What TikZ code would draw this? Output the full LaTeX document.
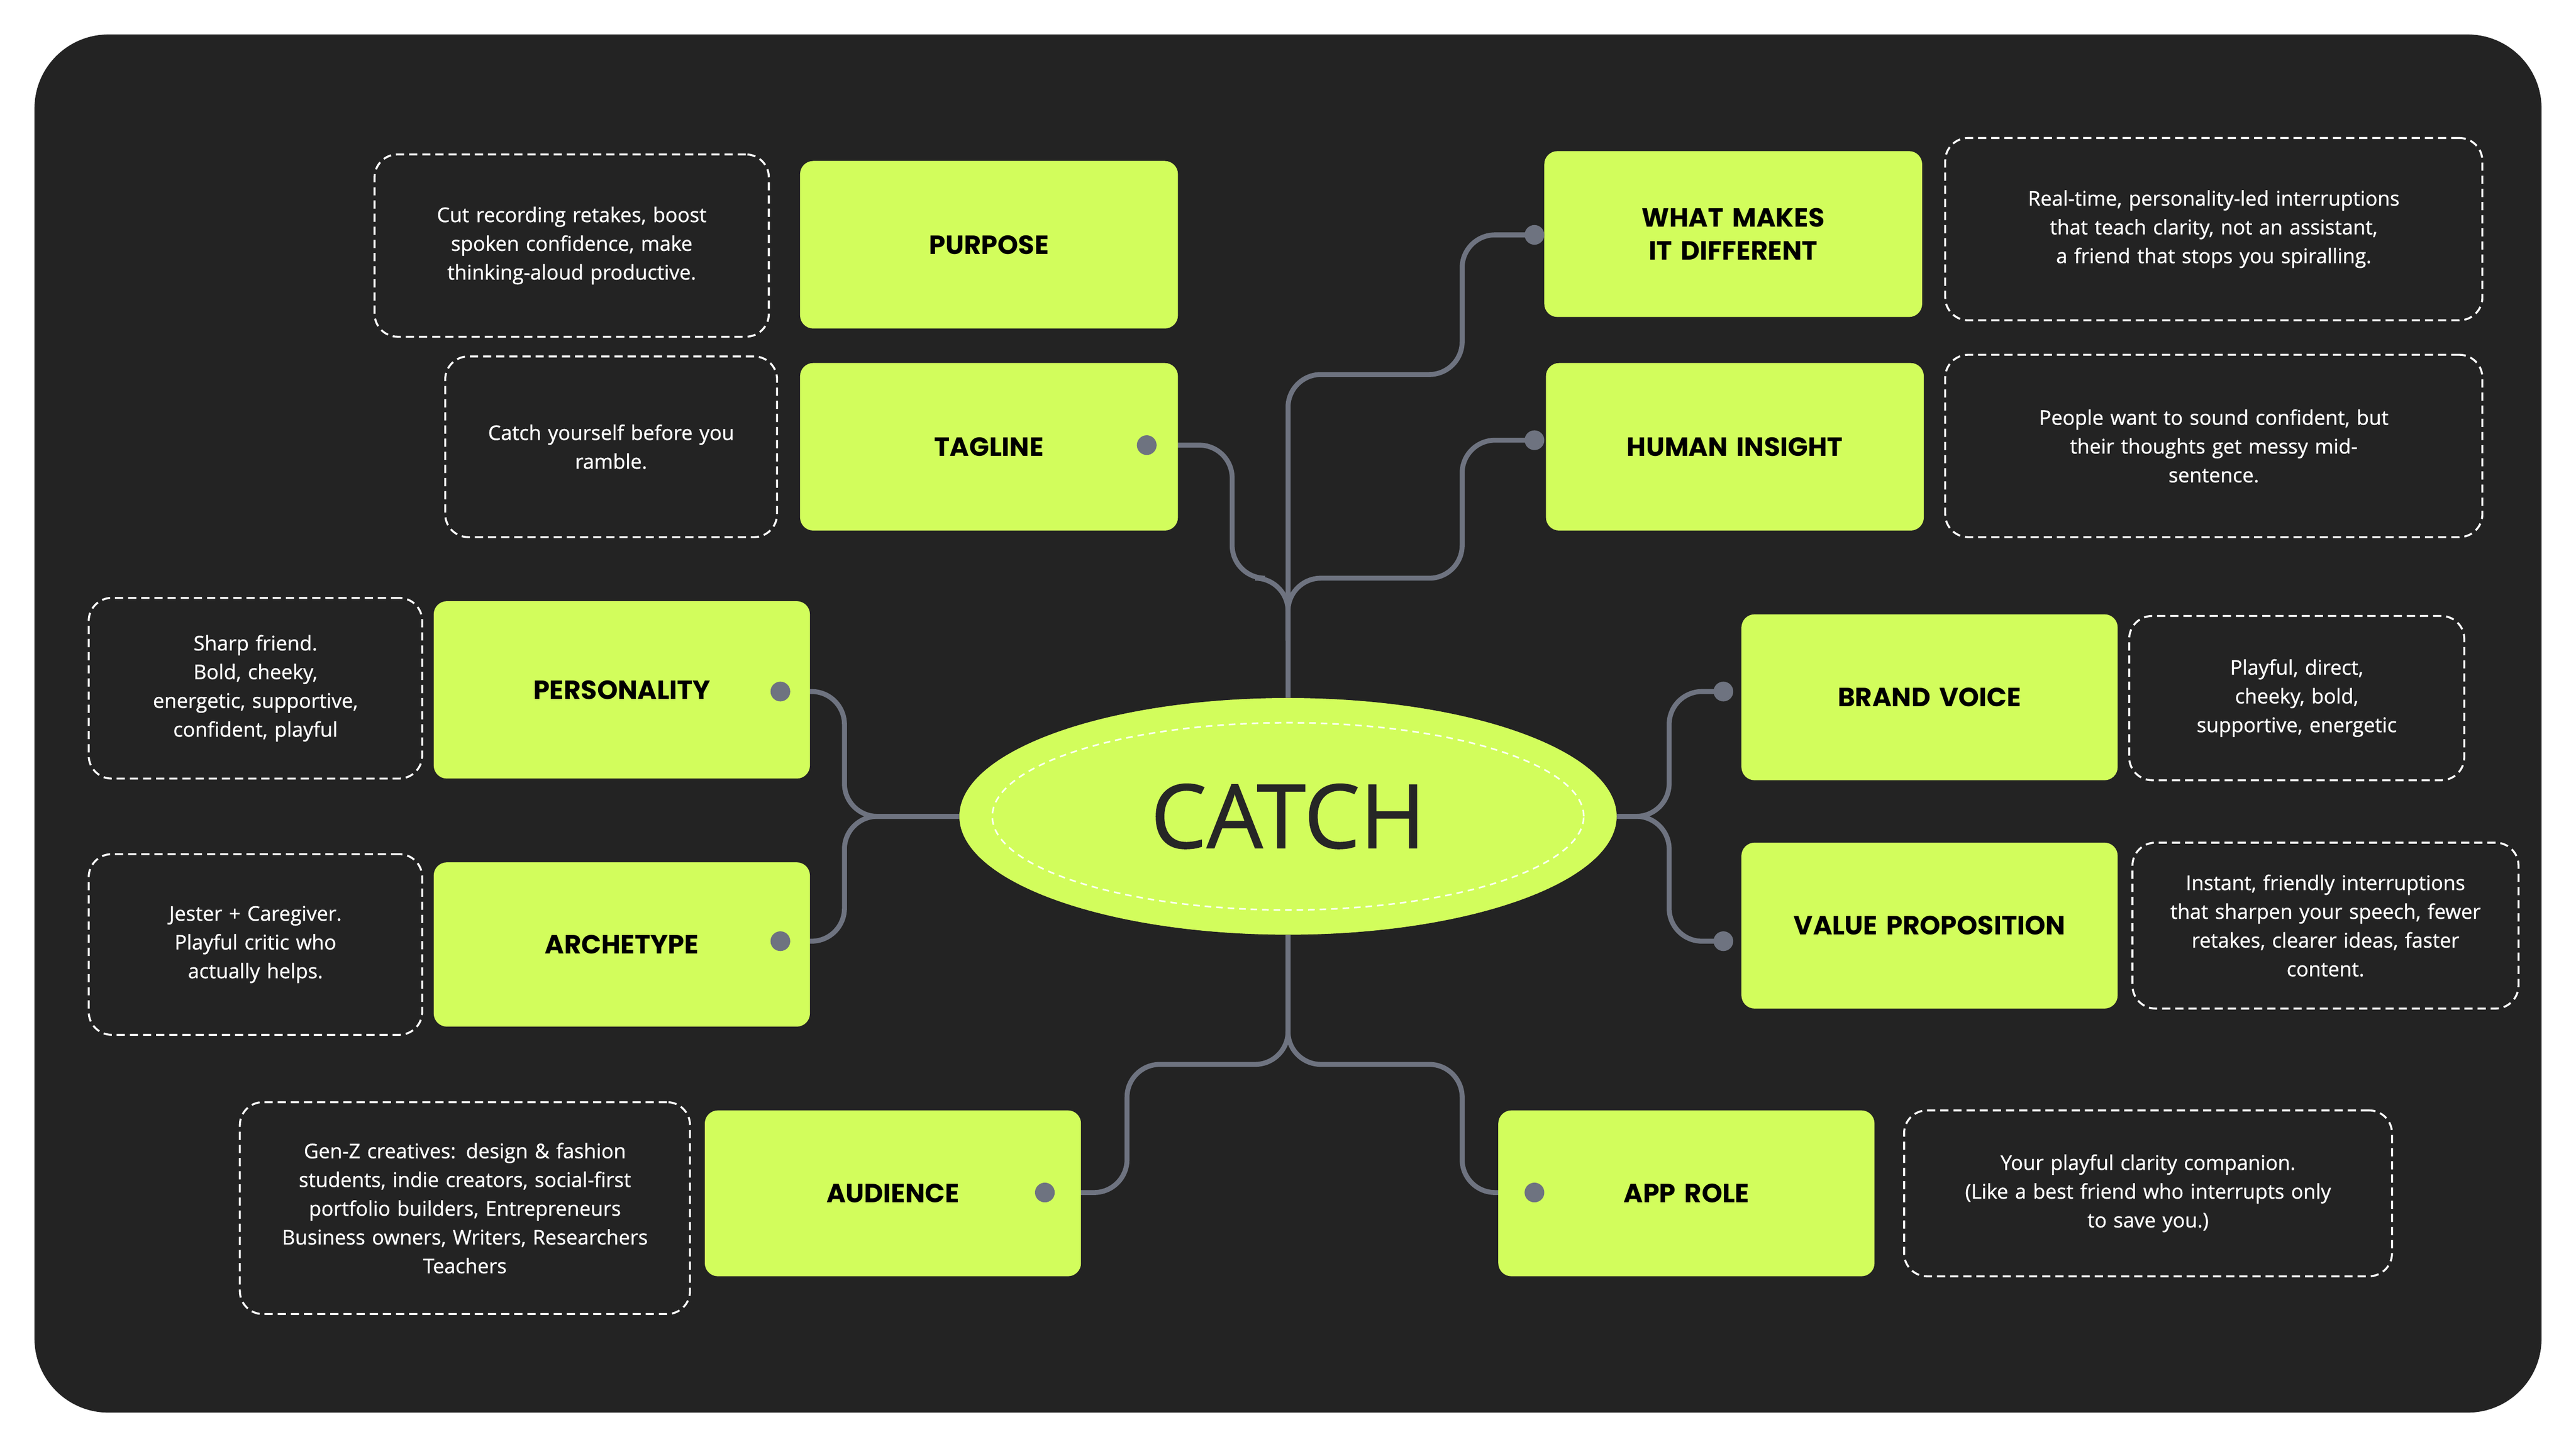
\documentclass[tikz,border=0pt]{standalone}
\usepackage{fontspec}
\setmainfont{Open Sans}
\newfontfamily\semi{Open Sans}[FakeBold=0.9]
\newfontfamily\lab{Poppins}
\usetikzlibrary{shapes.geometric}
\definecolor{bg}{HTML}{232323}
\definecolor{lime}{HTML}{D2FD5C}
\definecolor{wire}{HTML}{6E7380}
\tikzset{
 box/.style={fill=lime,rounded corners=8pt,inner sep=0pt,font=\lab\bfseries\fontsize{16}{20}\selectfont,text=black,align=center},
 desc/.style={draw=white,dashed,line width=1.2pt,dash pattern=on 5pt off 3pt,rounded corners=14pt,inner sep=0pt,text=white,align=center,font=\semi\fontsize{12.3}{17.5}\selectfont},
 wire/.style={draw=wire,line width=3pt,rounded corners=20pt},
 dot/.style={circle,fill=wire,minimum size=12pt,inner sep=0pt}
}
\newcommand{\bx}[7]{%
 \pgfmathsetmacro{\bw}{#4-#3}\pgfmathsetmacro{\bh}{#6-#5}\pgfmathsetmacro{\tw}{#4-#3-16}%
 \pgfmathsetmacro{\cx}{(#3+#4)/2}\pgfmathsetmacro{\cy}{(#5+#6)/2}%
 \node[#1,minimum width=\bw pt,minimum height=\bh pt,text width=\tw pt] (#2) at (\cx,\cy) {#7};}
\begin{document}
\begin{tikzpicture}[x=1pt,y=-1pt]
\useasboundingbox (0,0) rectangle (1568,882);
\fill[bg,rounded corners=45pt] (21,21) rectangle (1547,860);
% connectors
\coordinate (dWhat) at (934,143);
\coordinate (dHum) at (934,268);
\coordinate (dTag) at (698,271);
\coordinate (dPer) at (475,421);
\coordinate (dArc) at (475,573);
\coordinate (dBra) at (1049,421);
\coordinate (dVal) at (1049,573);
\coordinate (dAud) at (636,726);
\coordinate (dApp) at (934,726);
\node[ellipse,fill=lime,minimum width=400pt,minimum height=144pt,inner sep=0pt] (catch) at (784,497) {};
\draw[wire] (catch.north) -- (784,228) -- (890,228) -- (890,143) -- (dWhat);
\draw[wire] (784,390) -- (784,352) -- (890,352) -- (890,268) -- (dHum);
\draw[wire] (784,390) -- (784,352) -- (750,352) -- (750,271) -- (dTag);
\draw[wire] (catch.west) -- (514,497) -- (514,421) -- (dPer);
\draw[wire] (catch.west) -- (514,497) -- (514,573) -- (dArc);
\draw[wire] (catch.east) -- (1016,497) -- (1016,421) -- (dBra);
\draw[wire] (catch.east) -- (1016,497) -- (1016,573) -- (dVal);
\draw[wire] (catch.south) -- (784,648) -- (686,648) -- (686,726) -- (dAud);
\draw[wire] (catch.south) -- (784,648) -- (890,648) -- (890,726) -- (dApp);
\node[ellipse,fill=lime,minimum width=400pt,minimum height=144pt,inner sep=0pt,font=\semi\fontsize{54}{60}\selectfont,text={black!85}] (c2) at (784,497) {CATCH};
\node[ellipse,draw=white!90!lime,dashed,line width=1pt,dash pattern=on 4pt off 3pt,minimum width=360pt,minimum height=114pt] (c3) at (784,497) {};
% boxes
\bx{box}{purpose}{487}{717}{98}{200}{PURPOSE}
\bx{box}{tagline}{487}{717}{221}{323}{TAGLINE}
\bx{box}{what}{940}{1170}{92}{193}{WHAT MAKES\\IT DIFFERENT}
\bx{box}{human}{941}{1171}{221}{323}{HUMAN INSIGHT}
\bx{box}{pers}{264}{493}{366}{474}{PERSONALITY}
\bx{box}{arch}{264}{493}{525}{625}{ARCHETYPE}
\bx{box}{brand}{1060}{1289}{374}{475}{BRAND VOICE}
\bx{box}{value}{1060}{1289}{513}{614}{VALUE PROPOSITION}
\bx{box}{aud}{429}{658}{676}{777}{AUDIENCE}
\bx{box}{app}{912}{1141}{676}{777}{APP ROLE}
\foreach \d in {dWhat,dHum,dTag,dPer,dArc,dBra,dVal,dAud,dApp} \node[dot] at (\d) {};
% descriptions
\bx{desc}{dpurpose}{228}{468}{94}{205}{Cut recording retakes, boost\\spoken confidence, make\\thinking-aloud productive.}
\bx{desc}{dtag}{271}{473}{217}{327}{Catch yourself before you\\ramble.}
\bx{desc}{dwhat}{1184}{1511}{84}{195}{Real-time, personality-led interruptions\\that teach clarity, not an assistant,\\a friend that stops you spiralling.}
\bx{desc}{dhum}{1184}{1511}{216}{327}{People want to sound confident, but\\their thoughts get messy mid-\\sentence.}
\bx{desc}{dper}{54}{257}{364}{474}{Sharp friend.\\Bold, cheeky,\\energetic, supportive,\\confident, playful}
\bx{desc}{darc}{54}{257}{520}{630}{Jester + Caregiver.\\Playful critic who\\actually helps.}
\bx{desc}{dbra}{1296}{1500}{375}{475}{Playful, direct,\\cheeky, bold,\\supportive, energetic}
\bx{desc}{dval}{1298}{1533}{513}{614}{Instant, friendly interruptions\\that sharpen your speech, fewer\\retakes, clearer ideas, faster\\content.}
\bx{desc}{daud}{146}{420}{671}{800}{Gen-Z creatives: design \& fashion\\students, indie creators, social-first\\portfolio builders, Entrepreneurs\\Business owners, Writers, Researchers\\Teachers}
\bx{desc}{dapp}{1159}{1456}{676}{777}{Your playful clarity companion.\\(Like a best friend who interrupts only\\to save you.)}
\end{tikzpicture}
\end{document}
